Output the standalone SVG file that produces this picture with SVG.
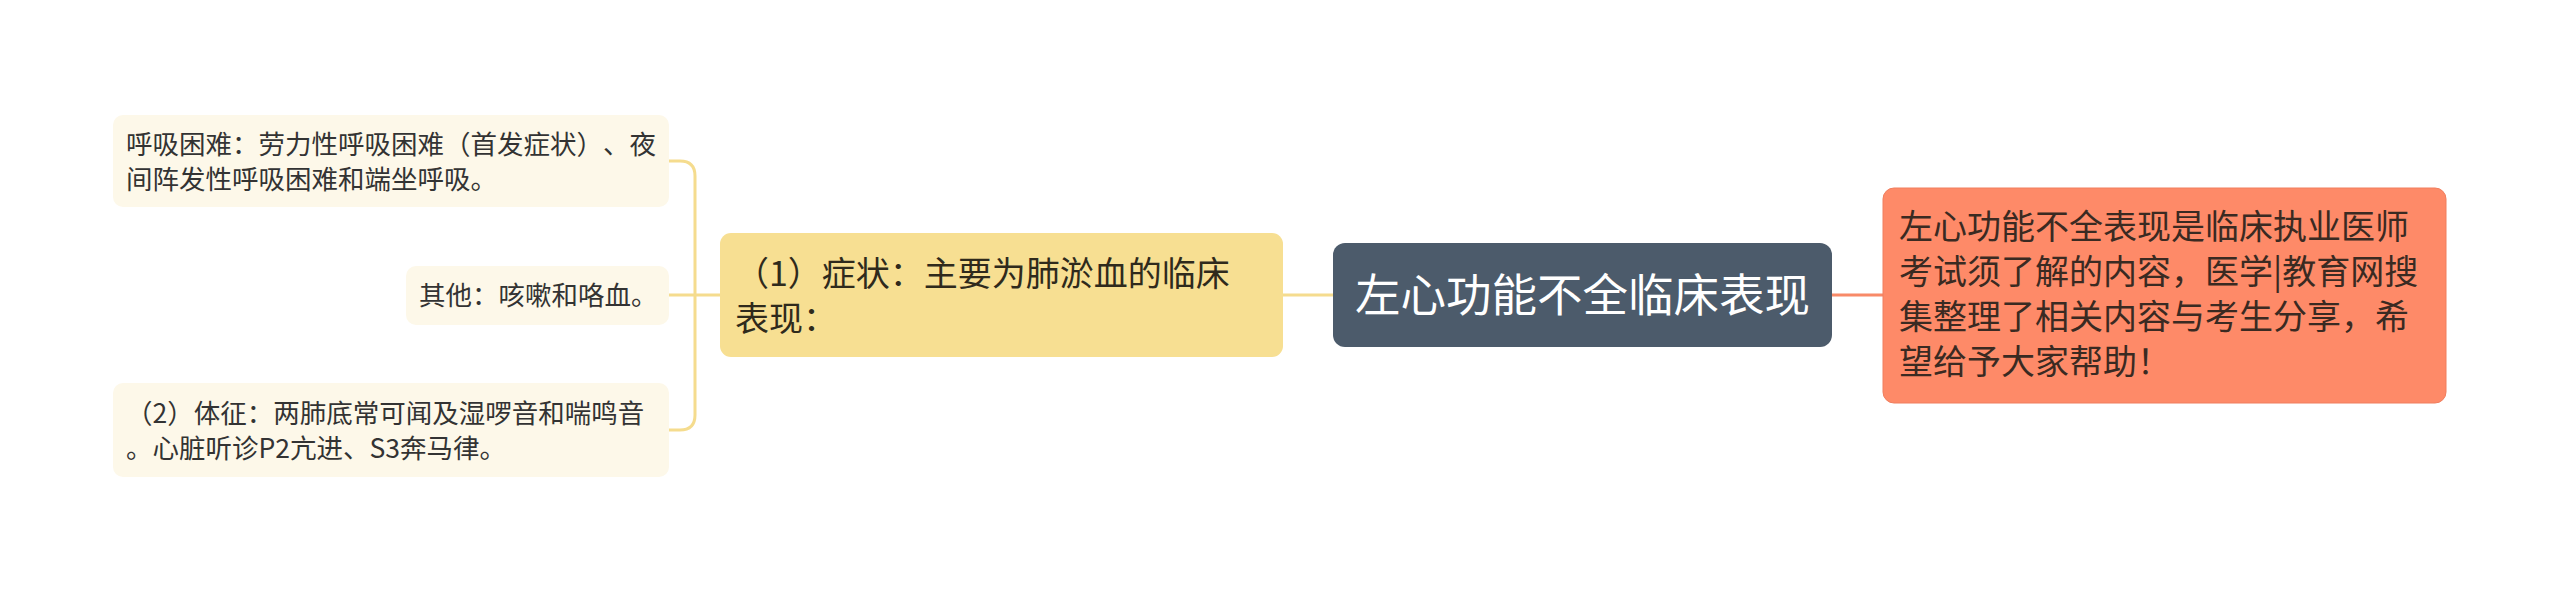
<svg xmlns="http://www.w3.org/2000/svg" width="2560" height="591" viewBox="0 0 2560 591">
<style>
text{font-family:"Noto Sans CJK SC","Noto Sans",sans-serif;text-spacing-trim:space-all;font-kerning:none;}
.leaf{fill:#fdf8e9;}
.t-leaf{font-size:26.5px;fill:#333333;}
.t-mid{font-size:34px;fill:#2f2a1c;}
.t-root{font-size:45.5px;fill:#ffffff;}
.t-note{font-size:34px;fill:#3a2a22;}
.c-y{fill:none;stroke:#f5dc8e;stroke-width:3;}
.c-o{fill:none;stroke:#f88a68;stroke-width:3;}
</style>
<rect width="2560" height="591" fill="#ffffff"/>
<g id="connectors">
<path class="c-y" d="M1333 295 H1283"/>
<path class="c-y" d="M720 295 H669"/>
<path class="c-y" d="M669 161 H680 Q695 161 695 176 V415 Q695 430 680 430 H669"/>
<path class="c-o" d="M1832 295 H1883"/>
</g>
<g id="root">
<rect x="1333" y="243" width="499" height="104" rx="12" fill="#4c5b6b"/>
<text class="t-root" x="1355" y="312">左心功能不全临床表现</text>
</g>
<g id="note">
<rect x="1883" y="188" width="563" height="215" rx="11" fill="#fe8a68" stroke="#f07e5e" stroke-width="1"/>
<text class="t-note" x="1899" y="239">左心功能不全表现是临床执业医师</text>
<text class="t-note" x="1899" y="284">考试须了解的内容，医学|教育网搜</text>
<text class="t-note" x="1899" y="329">集整理了相关内容与考生分享，希</text>
<text class="t-note" x="1899" y="374">望给予大家帮助！</text>
</g>
<g id="symptoms">
<rect x="720" y="233" width="563" height="124" rx="11" fill="#f7df92"/>
<text class="t-mid" x="735" y="286">（1）症状：主要为肺淤血的临床</text>
<text class="t-mid" x="735" y="331">表现：</text>
</g>
<g id="dyspnea">
<rect class="leaf" x="113" y="115" width="556" height="92" rx="10"/>
<text class="t-leaf" x="126" y="154">呼吸困难：劳力性呼吸困难（首发症状）、夜</text>
<text class="t-leaf" x="126" y="189">间阵发性呼吸困难和端坐呼吸。</text>
</g>
<g id="other">
<rect class="leaf" x="406" y="266" width="263" height="59" rx="10"/>
<text class="t-leaf" x="419" y="305">其他：咳嗽和咯血。</text>
</g>
<g id="signs">
<rect class="leaf" x="113" y="383" width="556" height="94" rx="10"/>
<text class="t-leaf" x="126" y="423">（2）体征：两肺底常可闻及湿啰音和喘鸣音</text>
<text class="t-leaf" x="126" y="458">。心脏听诊P2亢进、S3奔马律。</text>
</g>
</svg>
